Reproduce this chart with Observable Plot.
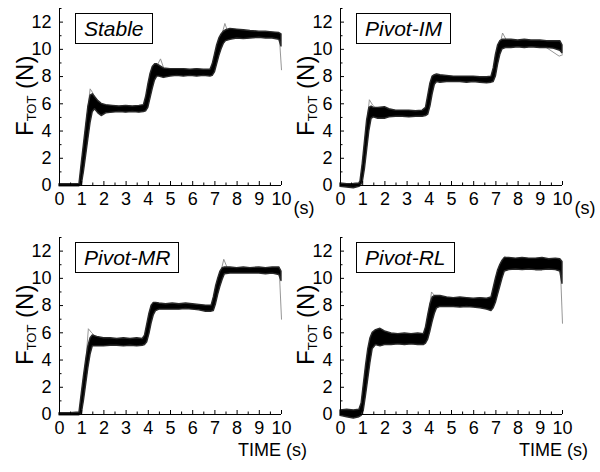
<!DOCTYPE html>
<html><head><meta charset="utf-8">
<script src="https://cdn.jsdelivr.net/npm/d3@7"></script>
<script src="https://cdn.jsdelivr.net/npm/@observablehq/plot@0.6"></script>
<style>
html,body{margin:0;padding:0;background:#fff;}
#wrap{position:relative;width:600px;height:472px;background:#fff;overflow:hidden;}
.panel{position:absolute;width:300px;height:236px;}
.panel svg{overflow:visible;}
.tag{position:absolute;border:1.5px solid #000;font:italic 21px "Liberation Sans",Arial,sans-serif;height:29px;line-height:30px;padding:0 8px;background:#fff;white-space:nowrap;color:#000;}
</style></head><body><div id="wrap"></div>
<script>
// ---- categories / labels ----
const panelNames = ["Stable", "Pivot-IM", "Pivot-MR", "Pivot-RL"];
const xMajor = [0,1,2,3,4,5,6,7,8,9,10];
const xMinor = [0.5,1.5,2.5,3.5,4.5,5.5,6.5,7.5,8.5,9.5];
const yMajor = [0,2,4,6,8,10,12];
const yMinor = [1,3,5,7,9,11,13];

// ---- Stable: band of traces (time, lower edge, upper edge) ----
const stableT  = [0,0.5,0.9,1.0,1.1,1.2,1.3,1.4,1.5,1.6,1.75,1.9,2.1,2.4,2.7,3.0,3.3,3.6,3.8,3.9,4.0,4.1,4.2,4.3,4.4,4.5,4.7,5.0,5.3,5.6,5.9,6.2,6.5,6.8,6.9,7.0,7.1,7.2,7.3,7.4,7.5,7.7,8.0,8.3,8.6,9.0,9.3,9.6,9.9,10.0];
const stableLo = [-0.05,-0.05,-0.05,0.0,1.0,2.2,3.4,4.6,5.4,5.6,5.3,5.1,5.3,5.35,5.4,5.35,5.4,5.35,5.4,5.45,5.7,6.4,7.1,7.7,8.0,8.0,7.9,8.0,8.05,8.0,8.05,8.0,8.05,8.0,8.05,8.3,8.9,9.5,10.0,10.4,10.6,10.7,10.8,10.75,10.8,10.85,10.8,10.8,10.7,10.2];
const stableHi = [0.1,0.1,0.12,1.6,3.0,4.4,5.8,6.6,6.7,6.5,6.2,6.0,5.9,5.85,5.8,5.85,5.8,5.85,5.9,6.5,7.4,8.2,8.7,8.9,8.9,8.8,8.6,8.55,8.55,8.55,8.5,8.55,8.5,8.5,8.9,9.6,10.3,10.8,11.1,11.3,11.4,11.5,11.45,11.4,11.35,11.3,11.3,11.25,11.2,11.1];
const stableOutT = [0,0.9,1.0,1.2,1.38,1.5,1.7,2.0,3.8,4.0,4.3,4.55,4.7,5.0,6.9,7.2,7.45,7.6,8.0,9.9,10.0];
const stableOutV = [0,0,1.2,4.5,7.1,6.8,6.1,5.6,5.6,6.8,8.5,9.3,8.6,8.3,8.3,10.4,11.9,11.2,11.1,11.0,8.5];

// ---- Pivot-IM ----
const imT  = [0,0.3,0.6,0.85,0.9,1.0,1.1,1.2,1.3,1.4,1.5,1.7,2.0,2.2,2.5,2.8,3.1,3.4,3.7,3.85,3.95,4.05,4.15,4.25,4.35,4.5,4.8,5.1,5.4,5.7,6.0,6.3,6.6,6.8,6.9,7.0,7.1,7.2,7.3,7.45,7.7,8.0,8.3,8.6,9.0,9.3,9.6,9.9,10.0];
const imLo = [-0.1,-0.15,-0.2,-0.1,-0.05,0.2,1.2,2.6,4.0,4.9,5.0,4.9,4.9,5.0,5.05,5.05,5.0,5.05,5.05,5.1,5.2,5.8,6.7,7.4,7.6,7.55,7.6,7.6,7.6,7.55,7.6,7.55,7.5,7.55,7.6,8.0,8.9,9.6,10.0,10.1,10.1,10.15,10.1,10.15,10.1,10.1,10.05,9.9,9.7];
const imHi = [0.15,0.1,0.12,0.15,0.3,1.6,3.2,4.8,5.7,5.8,5.7,5.7,5.75,5.6,5.5,5.5,5.5,5.45,5.5,5.7,6.6,7.5,8.0,8.1,8.15,8.1,8.05,8.0,8.0,8.0,8.0,7.95,7.95,8.0,8.6,9.6,10.3,10.6,10.7,10.7,10.7,10.65,10.7,10.65,10.65,10.6,10.6,10.6,10.3];
const imOutT = [0,0.9,1.0,1.15,1.3,1.45,1.7,2.0,3.85,4.0,4.2,4.4,5.0,6.9,7.05,7.3,7.5,8.0,8.8,9.3,9.85,10.0];
const imOutV = [0,0,0.8,4.0,6.3,5.9,5.5,5.3,5.3,6.8,8.1,8.0,7.8,7.8,9.4,11.2,10.6,10.5,10.5,10.1,9.5,9.6];

// ---- Pivot-MR ----
const mrT  = [0,0.5,0.9,1.0,1.1,1.2,1.3,1.4,1.5,1.7,2.0,2.3,2.6,2.9,3.2,3.5,3.75,3.85,3.95,4.05,4.15,4.25,4.35,4.5,4.8,5.1,5.4,5.7,6.0,6.3,6.6,6.85,6.95,7.05,7.15,7.25,7.35,7.45,7.7,8.0,8.3,8.6,9.0,9.3,9.6,9.9,10.0];
const mrLo = [-0.05,-0.05,-0.05,0.0,1.0,2.2,3.4,4.4,5.0,5.0,5.0,5.05,5.05,5.0,5.05,5.0,5.05,5.1,5.3,5.9,6.7,7.3,7.6,7.7,7.7,7.7,7.7,7.75,7.7,7.65,7.55,7.55,7.6,8.1,8.8,9.4,9.9,10.3,10.35,10.35,10.35,10.35,10.35,10.3,10.35,10.25,9.8];
const mrHi = [0.1,0.1,0.15,1.5,2.8,4.0,5.0,5.6,5.8,5.7,5.6,5.6,5.55,5.6,5.55,5.6,5.55,5.8,6.6,7.4,8.0,8.2,8.2,8.15,8.1,8.15,8.1,8.15,8.1,8.05,8.0,8.0,8.6,9.4,10.0,10.5,10.75,10.8,10.8,10.75,10.8,10.75,10.8,10.75,10.8,10.8,10.5];
const mrOutT = [0,0.95,1.05,1.2,1.3,1.45,1.7,2.0,3.85,4.0,4.2,4.4,5.0,6.95,7.1,7.4,7.55,8.0,9.9,10.0];
const mrOutV = [0,0,1.0,4.2,6.3,6.0,5.6,5.3,5.3,6.5,8.2,8.0,7.9,7.8,9.3,11.4,10.8,10.6,10.6,7.0];

// ---- Pivot-RL ----
const rlT  = [0,0.3,0.6,0.85,0.95,1.05,1.15,1.25,1.35,1.45,1.6,1.8,2.0,2.3,2.6,2.9,3.2,3.5,3.75,3.85,3.95,4.05,4.15,4.25,4.35,4.5,4.8,5.1,5.4,5.7,6.0,6.3,6.6,6.8,6.9,7.0,7.1,7.2,7.3,7.4,7.6,7.9,8.2,8.5,8.8,9.1,9.4,9.7,9.9,10.0];
const rlLo = [-0.1,-0.2,-0.3,-0.2,-0.1,0.3,1.4,2.6,3.8,4.8,5.1,5.0,5.1,5.1,5.15,5.1,5.15,5.1,5.1,5.2,5.5,6.1,6.8,7.4,7.8,7.9,7.9,7.9,7.85,7.9,7.85,7.8,7.7,7.6,7.8,8.2,8.8,9.4,10.0,10.5,10.6,10.65,10.6,10.65,10.6,10.6,10.65,10.6,10.5,9.6];
const rlHi = [0.3,0.35,0.3,0.35,0.8,2.2,3.6,4.8,5.6,6.0,6.2,6.3,6.1,5.95,5.9,5.95,5.9,5.95,5.9,6.4,7.3,8.1,8.6,8.7,8.7,8.7,8.6,8.55,8.6,8.55,8.5,8.55,8.5,8.6,9.3,10.0,10.6,11.0,11.3,11.5,11.5,11.45,11.5,11.45,11.45,11.5,11.4,11.45,11.4,11.2];
const rlOutT = [0,0.95,1.05,1.2,1.4,1.8,2.1,3.8,3.95,4.1,4.3,4.6,5.0,6.85,7.0,7.2,7.4,7.6,8.0,9.9,10.0];
const rlOutV = [0.3,0.3,1.5,4.0,5.8,6.3,5.6,5.5,7.2,9.0,8.6,8.3,8.2,8.1,9.6,10.9,11.6,11.3,11.1,11.0,6.7];

const bands = [
  [stableT, stableLo, stableHi, stableOutT, stableOutV],
  [imT, imLo, imHi, imOutT, imOutV],
  [mrT, mrLo, mrHi, mrOutT, mrOutV],
  [rlT, rlLo, rlHi, rlOutT, rlOutV]
];

const FONT = '"Liberation Sans", Arial, sans-serif';
const wrap = document.getElementById("wrap");

panelNames.forEach((name, k) => {
  const col = k % 2, row = Math.floor(k / 2);
  const left = col * 300, top = row * 236;
  const mL = col === 0 ? 59 : 40;
  const mR = 300 - mL - 222;
  const mT = row === 0 ? 8 : 1;
  const mB = row === 0 ? 51 : 58;
  const [T, Lo, Hi, OT, OV] = bands[k];
  const band = T.map((t, i) => ({t, lo: Lo[i], hi: Hi[i]}));
  const out = OT.map((t, i) => ({t, v: OV[i]}));

  const svg = Plot.plot({
    width: 300, height: 236,
    marginLeft: mL, marginRight: mR, marginTop: mT, marginBottom: mB,
    style: {fontFamily: FONT, fontSize: "18px", background: "transparent", color: "#000", overflow: "visible"},
    x: {domain: [0, 10]},
    y: {domain: [0, 13]},
    marks: [
      Plot.line(out, {x: "t", y: "v", stroke: "#8a8a8a", strokeWidth: 0.9}),
      Plot.areaY(band, {x: "t", y1: "lo", y2: "hi", fill: "#000", stroke: "#2a2a2a", strokeWidth: 1.4, strokeLinejoin: "round"}),
      Plot.ruleY([0], {stroke: "#000", strokeWidth: 1}),
      Plot.ruleX([0], {stroke: "#000", strokeWidth: 1}),
      Plot.axisX(xMinor, {tickSize: -2.5, tickFormat: () => "", label: null}),
      Plot.axisX(xMajor, {tickSize: -4, tickPadding: 11, tickFormat: d => String(d), label: null}),
      Plot.axisY(yMinor, {tickSize: -2.5, tickFormat: () => "", label: null}),
      Plot.axisY(yMajor, {tickSize: -4, tickPadding: 12, tickFormat: d => String(d), label: null})
    ]
  });

  const div = document.createElement("div");
  div.className = "panel";
  div.style.left = left + "px";
  div.style.top = top + "px";
  div.appendChild(svg);
  wrap.appendChild(div);

  const xs = svg.scale("x"), ys = svg.scale("y");
  const s = d3.select(svg);
  // y-axis title with subscript
  const yt = s.append("text")
    .attr("transform", `translate(${mL - 26},${ys.apply(6.55)}) rotate(-90)`)
    .attr("text-anchor", "middle")
    .style("font-family", FONT).style("font-size", "24px").attr("fill", "#000");
  yt.append("tspan").text("F");
  yt.append("tspan").attr("dy", 3).style("font-size", "13px").text("TOT");
  yt.append("tspan").attr("dy", -3).text(" (N)");

  if (row === 0) {
    s.append("text").attr("x", xs.apply(10) + 23).attr("y", ys.apply(0) + 29)
      .attr("text-anchor", "middle")
      .style("font-family", FONT).style("font-size", "18px").attr("fill", "#000").text("(s)");
  } else {
    s.append("text").attr("x", xs.apply(10) + 26).attr("y", ys.apply(0) + 42)
      .attr("text-anchor", "end")
      .style("font-family", FONT).style("font-size", "18px").attr("fill", "#000").text("TIME (s)");
  }

  const tag = document.createElement("div");
  tag.className = "tag";
  tag.textContent = name;
  tag.style.left = (left + mL + 16) + "px";
  tag.style.top = (top + mT + 5) + "px";
  wrap.appendChild(tag);
});
</script>
</body></html>
